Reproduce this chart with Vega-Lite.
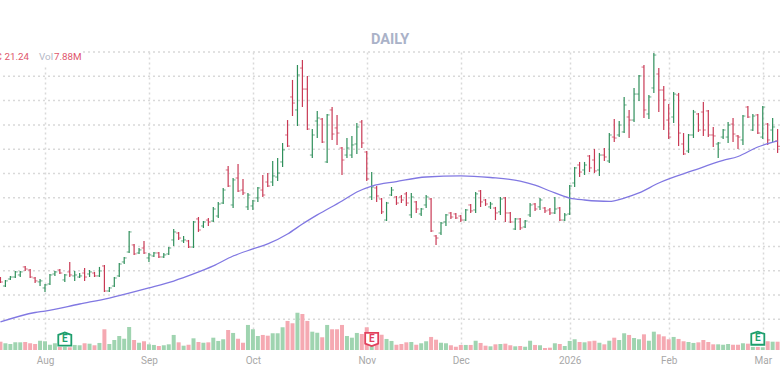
{"$schema":"https://vega.github.io/schema/vega-lite/v6.json","width":780,"height":298,"autosize":{"type":"none"},"padding":{"left":0,"top":52,"right":0,"bottom":31},"background":"white",
"title":{"text":"DAILY","fontSize":14.5,"fontWeight":"bold","color":"#aab2c8","anchor":"middle","offset":1,"font":"Roboto"},
"config":{"view":{"stroke":null},"font":"Roboto"},
"datasets":{
"bars":[
{"d":"2025-07-21","o":10.40,"h":10.48,"l":9.99,"c":10.08,"v":7.9},
{"d":"2025-07-22","o":9.74,"h":10.24,"l":9.66,"c":10.16,"v":6.4},
{"d":"2025-07-23","o":10.32,"h":10.57,"l":10.24,"c":10.48,"v":5.7},
{"d":"2025-07-24","o":10.48,"h":10.98,"l":10.40,"c":10.90,"v":7.3},
{"d":"2025-07-25","o":10.65,"h":10.98,"l":10.48,"c":10.90,"v":7.3},
{"d":"2025-07-28","o":11.31,"h":11.39,"l":10.98,"c":11.14,"v":7.6},
{"d":"2025-07-29","o":11.06,"h":11.14,"l":10.40,"c":10.48,"v":6.4},
{"d":"2025-07-30","o":10.40,"h":10.48,"l":9.99,"c":10.16,"v":5.7},
{"d":"2025-07-31","o":10.08,"h":10.32,"l":9.74,"c":10.16,"v":8.8},
{"d":"2025-08-01","o":9.58,"h":9.91,"l":9.25,"c":9.83,"v":8.3},
{"d":"2025-08-04","o":9.91,"h":10.73,"l":9.83,"c":10.65,"v":5.0},
{"d":"2025-08-05","o":10.73,"h":10.98,"l":10.57,"c":10.90,"v":6.4},
{"d":"2025-08-06","o":11.06,"h":11.14,"l":10.73,"c":10.81,"v":2.9},
{"d":"2025-08-07","o":10.24,"h":10.73,"l":10.08,"c":10.65,"v":3.1},
{"d":"2025-08-08","o":10.90,"h":11.72,"l":10.48,"c":10.65,"v":2.6},
{"d":"2025-08-11","o":10.57,"h":10.98,"l":10.16,"c":10.65,"v":4.8},
{"d":"2025-08-12","o":10.48,"h":10.81,"l":10.40,"c":10.57,"v":4.5},
{"d":"2025-08-13","o":10.81,"h":11.22,"l":10.16,"c":10.48,"v":6.4},
{"d":"2025-08-14","o":10.73,"h":11.06,"l":10.48,"c":10.90,"v":6.0},
{"d":"2025-08-15","o":10.81,"h":10.90,"l":10.48,"c":10.57,"v":4.5},
{"d":"2025-08-18","o":10.57,"h":11.31,"l":10.48,"c":10.98,"v":6.7},
{"d":"2025-08-19","o":11.39,"h":11.47,"l":9.25,"c":9.33,"v":19.7},
{"d":"2025-08-20","o":9.33,"h":9.66,"l":9.25,"c":9.58,"v":5.7},
{"d":"2025-08-21","o":9.74,"h":10.48,"l":9.66,"c":10.40,"v":9.5},
{"d":"2025-08-22","o":10.57,"h":11.64,"l":10.48,"c":11.55,"v":13.3},
{"d":"2025-08-25","o":11.72,"h":12.13,"l":11.55,"c":12.05,"v":10.7},
{"d":"2025-08-26","o":12.54,"h":14.27,"l":12.46,"c":14.19,"v":21.9},
{"d":"2025-08-27","o":13.12,"h":13.20,"l":12.30,"c":12.38,"v":9.5},
{"d":"2025-08-28","o":12.46,"h":12.87,"l":12.38,"c":12.71,"v":6.9},
{"d":"2025-08-29","o":12.87,"h":13.45,"l":12.38,"c":12.46,"v":8.3},
{"d":"2025-09-02","o":12.05,"h":12.46,"l":11.72,"c":12.30,"v":5.4},
{"d":"2025-09-03","o":12.21,"h":12.54,"l":12.13,"c":12.46,"v":4.8},
{"d":"2025-09-04","o":12.46,"h":12.54,"l":12.05,"c":12.13,"v":3.8},
{"d":"2025-09-05","o":12.13,"h":12.46,"l":12.05,"c":12.30,"v":4.5},
{"d":"2025-09-08","o":12.38,"h":12.95,"l":12.30,"c":12.87,"v":5.4},
{"d":"2025-09-09","o":13.53,"h":14.43,"l":13.03,"c":14.19,"v":14.3},
{"d":"2025-09-10","o":14.10,"h":14.19,"l":13.53,"c":13.69,"v":7.3},
{"d":"2025-09-11","o":13.45,"h":13.86,"l":13.28,"c":13.53,"v":4.1},
{"d":"2025-09-12","o":13.45,"h":13.53,"l":12.87,"c":12.95,"v":5.0},
{"d":"2025-09-15","o":12.95,"h":15.09,"l":12.87,"c":15.01,"v":11.1},
{"d":"2025-09-16","o":15.26,"h":15.42,"l":14.19,"c":14.35,"v":7.6},
{"d":"2025-09-17","o":14.68,"h":15.09,"l":14.52,"c":15.01,"v":6.9},
{"d":"2025-09-18","o":15.17,"h":15.34,"l":14.68,"c":15.01,"v":7.3},
{"d":"2025-09-19","o":15.09,"h":16.25,"l":15.01,"c":16.08,"v":11.7},
{"d":"2025-09-22","o":15.50,"h":16.66,"l":15.34,"c":16.49,"v":8.6},
{"d":"2025-09-23","o":16.57,"h":17.81,"l":16.49,"c":17.64,"v":10.2},
{"d":"2025-09-24","o":19.29,"h":19.62,"l":17.89,"c":17.97,"v":19.0},
{"d":"2025-09-25","o":16.41,"h":18.63,"l":16.16,"c":18.47,"v":16.2},
{"d":"2025-09-26","o":18.63,"h":19.78,"l":17.48,"c":17.56,"v":10.7},
{"d":"2025-09-29","o":17.64,"h":18.55,"l":17.23,"c":17.40,"v":6.9},
{"d":"2025-09-30","o":16.25,"h":17.40,"l":16.00,"c":17.23,"v":23.8},
{"d":"2025-10-01","o":16.33,"h":16.82,"l":16.00,"c":16.74,"v":19.7},
{"d":"2025-10-02","o":16.99,"h":17.89,"l":16.66,"c":17.81,"v":13.3},
{"d":"2025-10-03","o":17.64,"h":18.88,"l":17.07,"c":17.23,"v":14.3},
{"d":"2025-10-06","o":18.30,"h":19.04,"l":17.89,"c":17.97,"v":13.6},
{"d":"2025-10-07","o":18.30,"h":20.03,"l":17.97,"c":18.80,"v":15.9},
{"d":"2025-10-08","o":18.71,"h":20.28,"l":18.38,"c":19.04,"v":15.9},
{"d":"2025-10-09","o":19.95,"h":21.51,"l":19.54,"c":20.94,"v":21.6},
{"d":"2025-10-10","o":22.17,"h":23.40,"l":21.18,"c":21.26,"v":27.6},
{"d":"2025-10-13","o":25.30,"h":26.70,"l":23.73,"c":24.80,"v":25.4},
{"d":"2025-10-14","o":24.23,"h":27.93,"l":22.91,"c":27.11,"v":35.4},
{"d":"2025-10-15","o":27.68,"h":28.34,"l":24.47,"c":25.95,"v":34.2},
{"d":"2025-10-16","o":25.95,"h":27.03,"l":22.58,"c":22.66,"v":27.6},
{"d":"2025-10-17","o":20.52,"h":22.66,"l":20.28,"c":22.17,"v":17.4},
{"d":"2025-10-20","o":23.32,"h":24.15,"l":21.92,"c":23.57,"v":16.4},
{"d":"2025-10-21","o":23.48,"h":23.57,"l":21.51,"c":21.59,"v":12.1},
{"d":"2025-10-22","o":19.95,"h":23.90,"l":19.87,"c":23.82,"v":23.8},
{"d":"2025-10-23","o":24.23,"h":24.47,"l":21.76,"c":22.25,"v":19.7},
{"d":"2025-10-24","o":22.75,"h":23.82,"l":21.35,"c":22.33,"v":19.7},
{"d":"2025-10-27","o":21.10,"h":21.18,"l":18.88,"c":20.11,"v":23.8},
{"d":"2025-10-28","o":20.52,"h":21.92,"l":20.28,"c":21.10,"v":13.3},
{"d":"2025-10-29","o":20.52,"h":22.09,"l":20.28,"c":21.35,"v":11.7},
{"d":"2025-10-30","o":21.43,"h":23.16,"l":20.61,"c":22.83,"v":16.2},
{"d":"2025-10-31","o":23.24,"h":23.40,"l":21.10,"c":21.51,"v":15.2},
{"d":"2025-11-03","o":20.77,"h":20.86,"l":18.38,"c":18.55,"v":21.6},
{"d":"2025-11-04","o":17.07,"h":19.12,"l":16.82,"c":17.89,"v":15.8},
{"d":"2025-11-05","o":17.81,"h":17.97,"l":16.66,"c":17.15,"v":15.8},
{"d":"2025-11-06","o":16.90,"h":16.99,"l":15.67,"c":15.84,"v":14.5},
{"d":"2025-11-07","o":15.17,"h":16.66,"l":15.09,"c":16.57,"v":10.5},
{"d":"2025-11-10","o":17.23,"h":17.89,"l":17.15,"c":17.64,"v":8.6},
{"d":"2025-11-11","o":17.07,"h":17.15,"l":16.41,"c":16.57,"v":5.0},
{"d":"2025-11-12","o":17.07,"h":17.23,"l":16.57,"c":16.82,"v":5.7},
{"d":"2025-11-13","o":17.32,"h":17.48,"l":16.33,"c":16.57,"v":7.3},
{"d":"2025-11-14","o":15.59,"h":17.40,"l":15.34,"c":17.07,"v":7.6},
{"d":"2025-11-17","o":16.66,"h":16.74,"l":15.75,"c":16.08,"v":5.0},
{"d":"2025-11-18","o":15.67,"h":16.16,"l":15.50,"c":16.08,"v":6.4},
{"d":"2025-11-19","o":16.41,"h":17.23,"l":16.16,"c":17.07,"v":8.3},
{"d":"2025-11-20","o":16.90,"h":16.99,"l":14.19,"c":14.27,"v":12.4},
{"d":"2025-11-21","o":13.86,"h":13.94,"l":13.12,"c":13.69,"v":9.8},
{"d":"2025-11-24","o":14.10,"h":15.01,"l":13.94,"c":14.92,"v":6.9},
{"d":"2025-11-25","o":15.01,"h":15.67,"l":14.68,"c":15.59,"v":6.4},
{"d":"2025-11-26","o":15.75,"h":15.84,"l":15.26,"c":15.42,"v":4.5},
{"d":"2025-11-28","o":15.67,"h":15.75,"l":15.26,"c":15.34,"v":3.1},
{"d":"2025-12-01","o":15.50,"h":15.59,"l":15.01,"c":15.17,"v":4.8},
{"d":"2025-12-02","o":15.17,"h":16.08,"l":15.09,"c":16.00,"v":4.8},
{"d":"2025-12-03","o":16.41,"h":16.49,"l":15.75,"c":15.92,"v":4.8},
{"d":"2025-12-04","o":16.00,"h":17.48,"l":15.75,"c":17.32,"v":8.8},
{"d":"2025-12-05","o":17.56,"h":17.64,"l":16.25,"c":16.66,"v":6.7},
{"d":"2025-12-08","o":16.82,"h":16.90,"l":16.33,"c":16.49,"v":4.1},
{"d":"2025-12-09","o":16.25,"h":16.66,"l":16.08,"c":16.49,"v":3.5},
{"d":"2025-12-10","o":16.16,"h":16.25,"l":15.17,"c":15.75,"v":5.4},
{"d":"2025-12-11","o":15.84,"h":17.07,"l":15.59,"c":16.90,"v":5.7},
{"d":"2025-12-12","o":16.99,"h":17.07,"l":15.01,"c":15.75,"v":6.0},
{"d":"2025-12-15","o":15.75,"h":15.84,"l":14.92,"c":15.01,"v":4.5},
{"d":"2025-12-16","o":14.43,"h":15.34,"l":14.35,"c":15.26,"v":3.5},
{"d":"2025-12-17","o":15.26,"h":15.34,"l":14.35,"c":14.52,"v":3.8},
{"d":"2025-12-18","o":14.60,"h":15.17,"l":14.52,"c":15.09,"v":3.1},
{"d":"2025-12-19","o":15.59,"h":16.57,"l":15.42,"c":16.41,"v":8.8},
{"d":"2025-12-22","o":16.49,"h":16.57,"l":15.92,"c":16.08,"v":4.8},
{"d":"2025-12-23","o":16.25,"h":16.99,"l":16.00,"c":16.82,"v":4.5},
{"d":"2025-12-24","o":16.16,"h":16.25,"l":15.75,"c":15.92,"v":1.9},
{"d":"2025-12-26","o":16.00,"h":16.16,"l":15.59,"c":15.75,"v":2.2},
{"d":"2025-12-29","o":15.75,"h":17.07,"l":15.67,"c":16.08,"v":6.4},
{"d":"2025-12-30","o":16.16,"h":16.25,"l":15.09,"c":15.17,"v":5.7},
{"d":"2025-12-31","o":15.17,"h":15.75,"l":15.09,"c":15.59,"v":3.8},
{"d":"2026-01-02","o":15.67,"h":18.05,"l":15.59,"c":17.97,"v":8.6},
{"d":"2026-01-05","o":18.22,"h":19.54,"l":17.89,"c":19.46,"v":10.2},
{"d":"2026-01-06","o":19.70,"h":19.95,"l":18.71,"c":19.12,"v":7.6},
{"d":"2026-01-07","o":19.29,"h":19.95,"l":18.88,"c":19.70,"v":7.3},
{"d":"2026-01-08","o":20.44,"h":20.52,"l":19.12,"c":19.46,"v":8.3},
{"d":"2026-01-09","o":20.11,"h":21.02,"l":19.04,"c":19.21,"v":8.8},
{"d":"2026-01-12","o":19.29,"h":20.69,"l":18.80,"c":20.52,"v":6.9},
{"d":"2026-01-13","o":20.52,"h":21.10,"l":20.03,"c":20.36,"v":5.4},
{"d":"2026-01-14","o":20.03,"h":22.33,"l":19.87,"c":22.17,"v":8.8},
{"d":"2026-01-15","o":22.00,"h":23.48,"l":21.59,"c":21.92,"v":11.7},
{"d":"2026-01-16","o":22.17,"h":23.32,"l":22.00,"c":22.99,"v":9.5},
{"d":"2026-01-20","o":22.42,"h":25.30,"l":22.33,"c":24.64,"v":15.9},
{"d":"2026-01-21","o":23.65,"h":24.23,"l":21.92,"c":23.40,"v":14.3},
{"d":"2026-01-22","o":23.40,"h":26.04,"l":23.24,"c":25.54,"v":11.4},
{"d":"2026-01-23","o":25.54,"h":27.11,"l":24.97,"c":27.03,"v":10.2},
{"d":"2026-01-26","o":27.76,"h":27.93,"l":23.57,"c":24.23,"v":14.9},
{"d":"2026-01-27","o":23.90,"h":25.46,"l":23.48,"c":25.30,"v":8.8},
{"d":"2026-01-28","o":26.04,"h":28.92,"l":25.63,"c":28.75,"v":17.4},
{"d":"2026-01-29","o":27.19,"h":27.68,"l":24.06,"c":25.87,"v":14.9},
{"d":"2026-01-30","o":25.87,"h":26.20,"l":22.58,"c":25.05,"v":13.0},
{"d":"2026-02-02","o":23.40,"h":24.72,"l":21.84,"c":22.00,"v":10.2},
{"d":"2026-02-03","o":23.65,"h":25.71,"l":23.16,"c":25.54,"v":12.4},
{"d":"2026-02-04","o":25.46,"h":25.63,"l":21.26,"c":22.33,"v":10.5},
{"d":"2026-02-05","o":21.43,"h":22.33,"l":20.52,"c":20.61,"v":8.3},
{"d":"2026-02-06","o":20.85,"h":22.25,"l":20.69,"c":22.17,"v":7.6},
{"d":"2026-02-09","o":22.17,"h":24.23,"l":21.92,"c":24.06,"v":6.7},
{"d":"2026-02-10","o":23.90,"h":23.98,"l":22.42,"c":22.58,"v":7.3},
{"d":"2026-02-11","o":24.06,"h":24.88,"l":22.09,"c":22.58,"v":9.5},
{"d":"2026-02-12","o":24.15,"h":24.23,"l":22.00,"c":22.17,"v":7.6},
{"d":"2026-02-13","o":22.17,"h":22.83,"l":21.18,"c":22.09,"v":5.4},
{"d":"2026-02-17","o":21.43,"h":21.59,"l":20.28,"c":21.51,"v":5.4},
{"d":"2026-02-18","o":22.00,"h":22.66,"l":21.84,"c":22.58,"v":5.0},
{"d":"2026-02-19","o":22.00,"h":23.24,"l":21.51,"c":22.99,"v":5.7},
{"d":"2026-02-20","o":23.07,"h":23.57,"l":21.59,"c":22.25,"v":5.0},
{"d":"2026-02-23","o":22.09,"h":22.17,"l":21.02,"c":22.00,"v":5.0},
{"d":"2026-02-24","o":21.76,"h":23.82,"l":21.35,"c":23.73,"v":6.4},
{"d":"2026-02-25","o":24.47,"h":24.56,"l":23.57,"c":23.65,"v":6.0},
{"d":"2026-02-26","o":22.58,"h":23.90,"l":22.50,"c":23.73,"v":2.9},
{"d":"2026-02-27","o":23.82,"h":23.90,"l":22.25,"c":22.33,"v":2.9},
{"d":"2026-03-02","o":22.00,"h":24.56,"l":21.84,"c":24.47,"v":2.6},
{"d":"2026-03-03","o":23.07,"h":23.16,"l":21.35,"c":21.76,"v":8.3},
{"d":"2026-03-04","o":22.58,"h":23.57,"l":21.59,"c":22.83,"v":7.9},
{"d":"2026-03-05","o":21.68,"h":22.66,"l":20.69,"c":21.24,"v":7.88}
],
"ma":[
{"d":"2025-07-21","m":6.78},{"d":"2025-07-30","m":7.56},{"d":"2025-08-01","m":7.68},{"d":"2025-08-12","m":8.26},{"d":"2025-08-20","m":8.75},{"d":"2025-09-02","m":9.58},{"d":"2025-09-09","m":10.15},{"d":"2025-09-15","m":10.73},{"d":"2025-09-19","m":11.39},{"d":"2025-09-25","m":12.21},{"d":"2025-10-01","m":12.79},{"d":"2025-10-06","m":13.2},{"d":"2025-10-10","m":14.02},{"d":"2025-10-15","m":14.84},{"d":"2025-10-20","m":15.59},{"d":"2025-10-27","m":16.74},{"d":"2025-10-30","m":17.48},{"d":"2025-11-04","m":17.97},{"d":"2025-11-11","m":18.34},{"d":"2025-11-19","m":18.71},{"d":"2025-12-01","m":18.80},{"d":"2025-12-09","m":18.67},{"d":"2025-12-17","m":18.38},{"d":"2025-12-22","m":18.05},{"d":"2025-12-26","m":17.56},{"d":"2026-01-02","m":16.98},{"d":"2026-01-07","m":16.82},{"d":"2026-01-14","m":16.70},{"d":"2026-01-20","m":16.98},{"d":"2026-01-23","m":17.40},{"d":"2026-01-29","m":18.22},{"d":"2026-02-09","m":19.25},{"d":"2026-02-18","m":20.07},{"d":"2026-02-23","m":20.40},{"d":"2026-02-27","m":21.18},{"d":"2026-03-05","m":21.68}
],
"levels":[{"g":7},{"g":9},{"g":11},{"g":13},{"g":15},{"g":17},{"g":19},{"g":21},{"g":23},{"g":25},{"g":27},{"g":29}],
"earn":[{"d":"2025-08-07","v":10.4,"result":"beat","t":"E"},{"d":"2025-11-04","v":10.0,"result":"miss","t":"E"},{"d":"2026-02-27","v":11.2,"result":"beat","t":"E"}],
"head":[
{"d":"2025-07-21","p":28.59,"t":"C","kind":"value","al":"right"},
{"d":"2025-07-22","p":28.59,"t":"21.24","kind":"value","al":"left"},
{"d":"2025-07-31","p":28.59,"t":"Vol","kind":"name","al":"left"},
{"d":"2025-08-05","p":28.59,"t":"7.88M","kind":"value","al":"left"}
],
"headbox":[{"d":"2025-07-21","d2":"2025-08-12","p":29.3,"p2":27.85}]
},
"data":{"name":"bars"},
"encoding":{"x":{"field":"d","type":"ordinal","title":null,"scale":{"type":"point","padding":0,"range":[0.45,777.6]},
"axis":{"values":["2025-08-01","2025-09-02","2025-10-01","2025-11-03","2025-12-01","2026-01-02","2026-02-02","2026-03-02"],
"labelExpr":"{'2025-08-01':'Aug','2025-09-02':'Sep','2025-10-01':'Oct','2025-11-03':'Nov','2025-12-01':'Dec','2026-01-02':'2026','2026-02-02':'Feb','2026-03-02':'Mar'}[datum.value]",
"domain":false,"ticks":false,"labelAngle":0,"labelPadding":5,"labelFontSize":10,"labelColor":"#a8a8a8","labelFont":"Roboto","labelBound":false,"labelOverlap":false,"labelFlush":false,"grid":true,"gridColor":"#d9d9d9","gridDash":[2,3],"gridWidth":1.5}}},
"layer":[
{"layer":[
{"data":{"name":"levels"},"mark":{"type":"rule","color":"#d9d9d9","strokeWidth":1.5,"strokeDash":[2,3]},"encoding":{"x":null,"y":{"field":"g","type":"quantitative","title":null,"axis":null,"scale":{"domain":[4.473,29],"nice":false,"zero":false}}}},
{"mark":{"type":"rule","strokeWidth":1.2},"encoding":{"y":{"field":"l","type":"quantitative","axis":null},"y2":{"field":"h"},"color":{"condition":{"test":"datum.c<datum.o","value":"#c93a55"},"value":"#2f8f5b"}}},
{"mark":{"type":"tick","orient":"horizontal","size":2.5,"thickness":1,"xOffset":-1.2},"encoding":{"y":{"field":"o","type":"quantitative","axis":null},"color":{"condition":{"test":"datum.c<datum.o","value":"#c93a55"},"value":"#2f8f5b"}}},
{"mark":{"type":"tick","orient":"horizontal","size":2.5,"thickness":1,"xOffset":1.2},"encoding":{"y":{"field":"c","type":"quantitative","axis":null},"color":{"condition":{"test":"datum.c<datum.o","value":"#c93a55"},"value":"#2f8f5b"}}},
{"data":{"name":"ma"},"mark":{"type":"line","color":"#8178e2","strokeWidth":1.3,"interpolate":"monotone"},"encoding":{"y":{"field":"m","type":"quantitative","axis":null}}},
{"data":{"name":"headbox"},"mark":{"type":"rect","color":"white","x2Offset":2},"encoding":{"x2":{"field":"d2"},"y":{"field":"p","type":"quantitative","axis":null},"y2":{"field":"p2"}}},
{"data":{"name":"head"},"transform":[{"filter":"datum.al==='left'"}],"mark":{"type":"text","align":"left","baseline":"middle","fontSize":9.8,"dx":-1},"encoding":{"y":{"field":"p","type":"quantitative","axis":null},"text":{"field":"t"},"color":{"field":"kind","type":"nominal","legend":null,"scale":{"domain":["value","name"],"range":["#e0566c","#b4b8c6"]}}}},
{"data":{"name":"head"},"transform":[{"filter":"datum.al==='right'"}],"mark":{"type":"text","align":"right","baseline":"middle","fontSize":9.8,"dx":1.5},"encoding":{"y":{"field":"p","type":"quantitative","axis":null},"text":{"field":"t"},"color":{"value":"#e0566c"}}}
]},
{"layer":[
{"mark":{"type":"bar","size":4},"encoding":{"y":{"field":"v","type":"quantitative","title":null,"axis":null,"scale":{"domain":[0,283.1],"nice":false}},"color":{"condition":{"test":"datum.c<datum.o","value":"#f5a9b2"},"value":"#9fd4b0"}}},
{"data":{"name":"earn"},"mark":{"type":"point","filled":false,"fill":"white","fillOpacity":1,"size":170,"strokeWidth":1.8},"encoding":{"y":{"field":"v","type":"quantitative","axis":null},"shape":{"field":"result","type":"nominal","legend":null,"scale":{"domain":["beat","miss"],"range":["M-1 -0.65 L0 -1 L1 -0.65 L1 1 L-1 1 Z","M-1 -1 L1 -1 L1 0.65 L0 1 L-1 0.65 Z"]}},"stroke":{"field":"result","type":"nominal","legend":null,"scale":{"domain":["beat","miss"],"range":["#1d9e6c","#e2405c"]}}}},
{"data":{"name":"earn"},"mark":{"type":"text","fontSize":10,"fontWeight":"bold","baseline":"middle"},"encoding":{"y":{"field":"v","type":"quantitative","axis":null},"text":{"field":"t"},"color":{"field":"result","type":"nominal","legend":null,"scale":{"domain":["beat","miss"],"range":["#1d9e6c","#e2405c"]}}}}
]}
],
"resolve":{"scale":{"y":"independent","color":"independent","stroke":"independent","shape":"independent"}}
}
